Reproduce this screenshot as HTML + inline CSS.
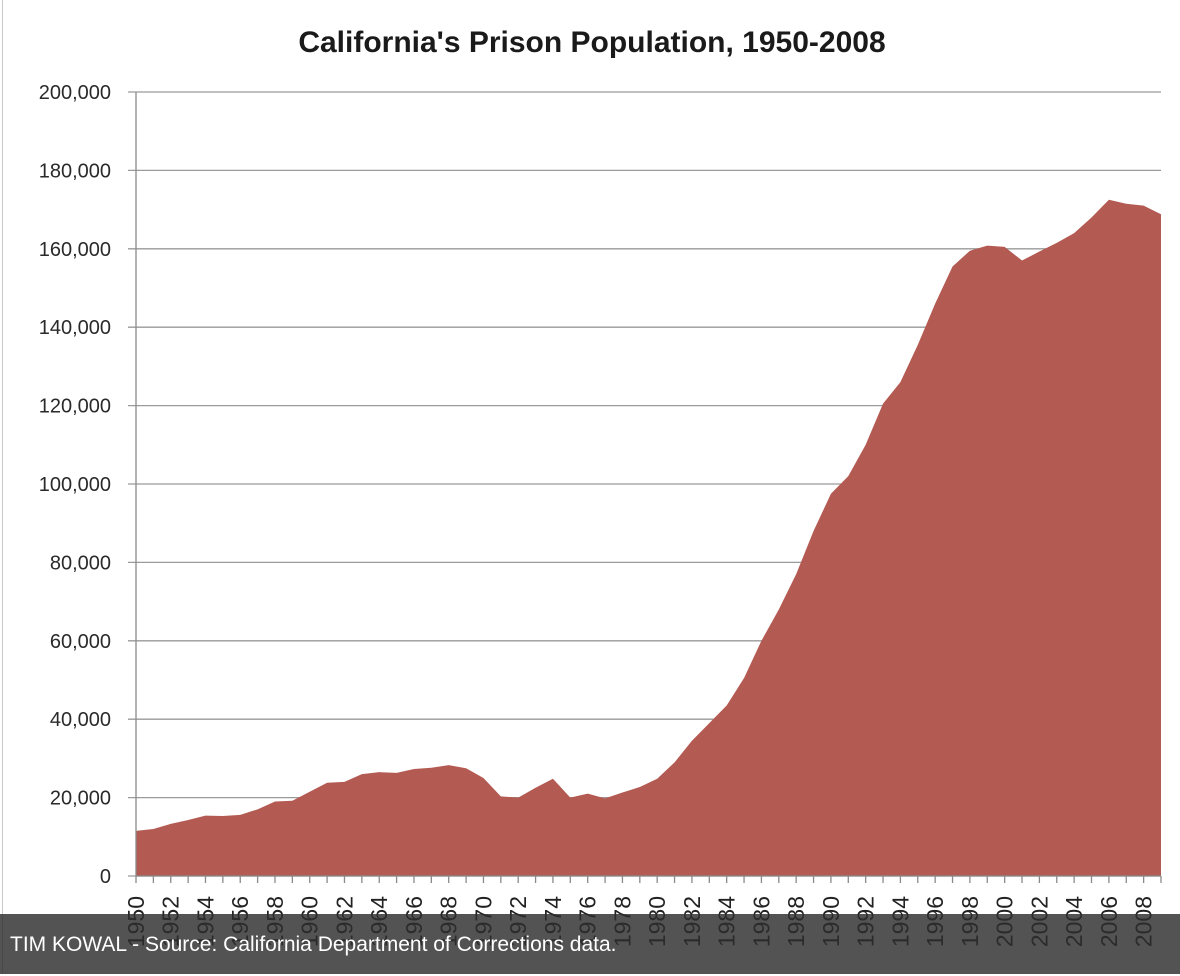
<!DOCTYPE html>
<html><head><meta charset="utf-8"><style>
body{margin:0;background:#fff;width:1180px;height:974px;overflow:hidden;position:relative;font-family:"Liberation Sans",sans-serif}
#border{position:absolute;left:2px;top:0;width:1px;height:974px;background:#c8c8c8}
#caption{position:absolute;left:0;top:914px;width:1180px;height:60px;background:rgba(45,45,45,0.82);color:#fff;font-size:21px;line-height:62px;padding-left:10px;box-sizing:border-box}
</style></head><body>
<div id="border"></div>
<svg id="chart" width="1180" height="974" style="position:absolute;left:0;top:0">
<text x="592" y="52" text-anchor="middle" font-size="30" font-weight="bold" fill="#1a1a1a">California's Prison Population, 1950-2008</text>
<g id="grid"></g><path id="area" fill="#b35a52"></path><g id="axes"></g>
</svg>
<div id="caption">TIM KOWAL - Source: California Department of Corrections data.</div>
<script>
const years=[1950,1951,1952,1953,1954,1955,1956,1957,1958,1959,1960,1961,1962,1963,1964,1965,1966,1967,1968,1969,1970,1971,1972,1973,1974,1975,1976,1977,1978,1979,1980,1981,1982,1983,1984,1985,1986,1987,1988,1989,1990,1991,1992,1993,1994,1995,1996,1997,1998,1999,2000,2001,2002,2003,2004,2005,2006,2007,2008,2009];
const population=[11500,12000,13300,14300,15400,15300,15600,17000,19000,19200,21500,23800,24000,26000,26500,26300,27300,27600,28300,27500,25000,20300,20000,22500,24800,20000,21000,19800,21300,22700,24800,29000,34500,39000,43500,50500,60000,68000,77000,88000,97500,102000,110000,120500,126000,135500,146000,155500,159500,160800,160500,157000,159300,161500,164000,168000,172500,171500,171000,168800];
const yTicks=[0,20000,40000,60000,80000,100000,120000,140000,160000,180000,200000];
const NS="http://www.w3.org/2000/svg";
const x0=136,x1=1161,yb=876,yt=92,ymax=200000;
function xs(i){return x0+i*(x1-x0)/(years.length-1);}
function ys(v){return yb-(v/ymax)*(yb-yt);}
function mk(t,a,p){const e=document.createElementNS(NS,t);for(const k in a)e.setAttribute(k,a[k]);p.appendChild(e);return e;}
const grid=document.getElementById('grid'),axes=document.getElementById('axes');
yTicks.forEach(v=>{
 const l=mk('line',{x1:128,x2:x1,y1:ys(v),y2:ys(v),stroke:'#9a9a9a','stroke-width':1.3},grid);
 
 
 const t=mk('text',{x:111,y:ys(v)+7,'text-anchor':'end','font-size':20,fill:'#2a2a2a'},axes);
 t.textContent=v.toLocaleString('en-US');
 
 
});
let d='M'+xs(0)+','+yb;
population.forEach((v,i)=>{d+=' L'+xs(i)+','+ys(v);});
d+=' L'+xs(years.length-1)+','+yb+' Z';
document.getElementById('area').setAttribute('d',d);
mk('line',{x1:x0,x2:x0,y1:yt,y2:yb,stroke:'#8a8a8a','stroke-width':1.3},axes);
mk('line',{x1:x0,x2:x1,y1:yb,y2:yb,stroke:'#8a8a8a','stroke-width':1.3},axes);
years.forEach((y,i)=>{
 const tk=mk('line',{x1:xs(i),x2:xs(i),y1:yb,y2:yb+7,stroke:'#8a8a8a','stroke-width':1.3},axes);
 
 
 if(i%2===0){
  const t=mk('text',{x:0,y:0,'font-size':23,fill:'#222','text-anchor':'end',transform:'translate('+(xs(i)+8)+','+(yb+20)+') rotate(-90)'},axes);
  t.textContent=y;
  
  
 }
});
</script>
</body></html>
